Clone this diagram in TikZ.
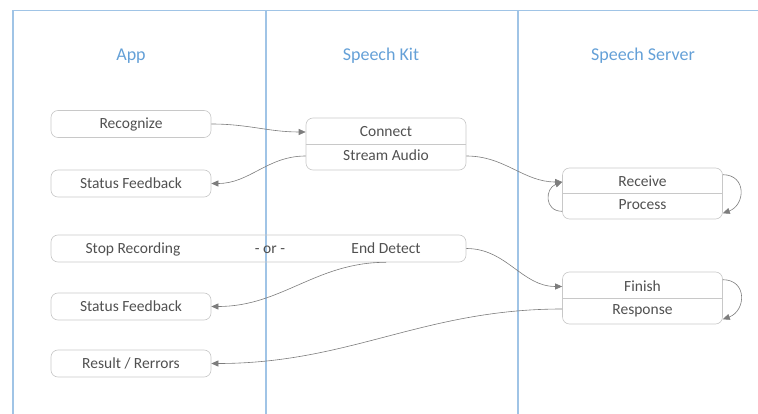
\documentclass[tikz,border=0pt]{standalone}
\usepackage{fontspec}
\setmainfont{Carlito}
\usepackage{tikz}
\usetikzlibrary{arrows.meta}
\definecolor{laneCol}{RGB}{160, 196, 230}
\definecolor{titleCol}{RGB}{100, 160, 215}
\definecolor{boxCol}{RGB}{200, 200, 200}
\definecolor{flowCol}{RGB}{125, 125, 125}
\definecolor{textCol}{RGB}{80, 80, 80}
\tikzset{myLane/.style={line width=1.2pt,color=laneCol}}
\tikzset{myTitle/.style={text=titleCol, font=\fontsize{18}{20}\selectfont}}
\tikzset{myBox/.style={draw=boxCol, line width=0.6pt, rounded corners=7pt, minimum width=160pt, minimum height=27pt, inner sep=0pt}}
\tikzset{myText/.style={text=textCol, font=\fontsize{15.5}{17}\selectfont, inner sep=0pt, text height=11pt, text depth=1pt}}
\tikzset{myFlow/.style={color=flowCol, line width=0.6pt, -{Triangle[length=7pt,width=6pt]}}}

\begin{document}
\begin{tikzpicture}[x=1pt,y=-1pt]
	\useasboundingbox (0,0) rectangle (758,414);
	% swim lanes
	\draw[myLane] (13,414) -- (13,10.5) -- (758,10.5);
	\draw[myLane] (266,10.5) -- (266,414);
	\draw[myLane] (518,10.5) -- (518,414);
	\node[myTitle] (appTitle) at (131,56) {App};
	\node[myTitle] (kitTitle) at (381,56) {Speech Kit};
	\node[myTitle] (serverTitle) at (643,56) {Speech Server};
	
	% app
	\node[myBox, myText] (recognize) at (131,124) {Recognize};
	\node[myBox, myText] (statusA) at (131,183.5) {Status Feedback};
	\node[myBox, minimum width=415pt] (stop) at (258.5,248.5) {};
	\node[myText] (stopRec) at (133,248.5) {Stop Recording};
	\node[myText] (orText) at (270,248.5) {- or -};
	\node[myText] (endDetect) at (386,248.5) {End Detect};
	\node[myBox, myText] (statusB) at (131,306.5) {Status Feedback};
	\node[myBox, myText] (result) at (131,363.5) {Result / Rerrors};
	
	% speech kit
	\node[myBox, minimum height=52pt] (kit) at (386,144) {};
	\draw[boxCol, line width=0.6pt] (kit.west) -- (kit.east);
	\node[myText] (connect) at (386,132) {Connect};
	\node[myText] (stream) at (386,156) {Stream Audio};
	
	% speech server
	\node[myBox, minimum height=51pt] (serverA) at (642.5,193.5) {};
	\draw[boxCol, line width=0.6pt] (serverA.west) -- (serverA.east);
	\node[myText] (receive) at (642.5,182) {Receive};
	\node[myText] (process) at (642.5,205) {Process};
	\node[myBox, minimum height=52pt] (serverB) at (642.5,298) {};
	\draw[boxCol, line width=0.6pt] (serverB.west) -- (serverB.east);
	\node[myText] (finish) at (642.5,286.5) {Finish};
	\node[myText] (response) at (642.5,309) {Response};
	
	% flows
	\draw[myFlow] (recognize.east) to[out=0,in=180] (kit.west |- connect);
	\draw[myFlow] (kit.west |- stream) to[out=180,in=0] (statusA.east);
	\draw[myFlow] (kit.east |- stream) to[out=0,in=180] (serverA.west |- receive);
	\draw[myFlow] ([yshift=8pt]serverA.south west) to[out=180,in=200,looseness=1.6] (serverA.west |- receive);
	\draw[myFlow] ([yshift=-7pt]serverA.north east) to[out=0,in=20,looseness=1.6] ([yshift=6pt]serverA.south east);
	\draw[myFlow] (stop.east |- endDetect) to[out=0,in=180] (serverB.west |- finish);
	\draw[myFlow] (endDetect.south |- stop.south) to[out=180,in=0] (statusB.east);
	\draw[myFlow] ([yshift=-8pt]serverB.north east) to[out=0,in=20,looseness=1.6] ([yshift=5pt]serverB.south east);
	\draw[myFlow] (serverB.west |- response) to[out=180,in=0] (result.east);
\end{tikzpicture}
\end{document}
